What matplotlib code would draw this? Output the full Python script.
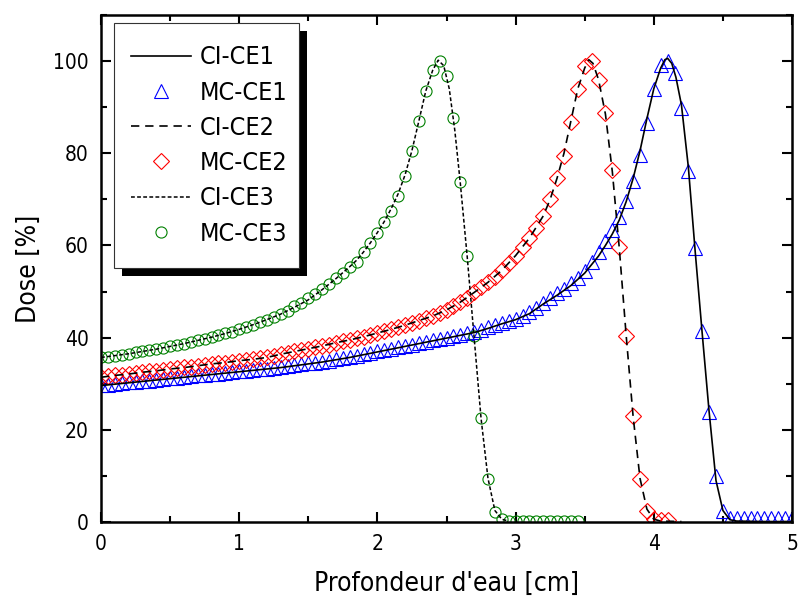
import matplotlib
matplotlib.use('Agg')
import matplotlib.pyplot as plt
from matplotlib.patches import Rectangle
from matplotlib.ticker import MultipleLocator

plt.rcParams['font.family'] = ['DejaVu Sans']
plt.rcParams['font.stretch'] = 'condensed'

# Monte Carlo depth-dose points (0.05 cm steps)
mc_x_ce1 = [round(0.05 * i, 2) for i in range(101)]
mc_ce1 = [29.7, 29.8, 30.0, 30.1, 30.3, 30.4, 30.6, 30.7, 30.9, 31.0,
          31.2, 31.3, 31.5, 31.6, 31.8, 31.9, 32.1, 32.2, 32.4, 32.5,
          32.7, 32.8, 33.0, 33.1, 33.3, 33.4, 33.6, 33.8, 34.0, 34.2,
          34.4, 34.6, 34.8, 35.0, 35.3, 35.5, 35.8, 36.1, 36.4, 36.7,
          37.0, 37.3, 37.6, 37.9, 38.2, 38.5, 38.8, 39.1, 39.4, 39.7,
          40.0, 40.3, 40.6, 40.9, 41.3, 41.7, 42.2, 42.7, 43.2, 43.6,
          44.1, 44.7, 45.5, 46.5, 47.6, 48.6, 49.6, 50.6, 51.8, 53.0,
          54.5, 56.5, 58.6, 60.9, 63.3, 66.2, 69.6, 74.0, 79.6, 86.6,
          93.9, 99.1, 100.0, 97.4, 89.8, 76.2, 59.5, 41.5, 23.8, 9.9,
          2.4, 0.8, 0.8, 0.8, 0.8, 0.8, 0.8, 0.8, 0.8, 0.8, 0.8]

mc_x_ce2 = [round(0.05 * i, 2) for i in range(83)]
mc_ce2 = [31.4, 31.6, 31.8, 31.9, 32.1, 32.3, 32.5, 32.7, 32.8, 33.0,
          33.2, 33.4, 33.6, 33.7, 33.9, 34.1, 34.3, 34.5, 34.6, 34.8,
          35.0, 35.2, 35.4, 35.5, 35.7, 36.1, 36.4, 36.7, 37.0, 37.3,
          37.6, 37.9, 38.2, 38.5, 38.9, 39.2, 39.5, 39.9, 40.2, 40.6,
          41.0, 41.4, 41.8, 42.2, 42.7, 43.2, 43.7, 44.2, 44.7, 45.3,
          46.0, 46.8, 47.7, 48.7, 49.8, 50.9, 52.0, 53.2, 54.6, 56.1,
          57.8, 59.6, 61.6, 63.8, 66.4, 70.0, 74.6, 79.5, 86.8, 93.9,
          98.9, 100.0, 95.9, 88.8, 76.3, 59.6, 40.4, 22.9, 9.4, 2.4,
          0.6, 0.4, 0.4]

mc_x_ce3 = [round(0.05 * i, 2) for i in range(70)]
mc_ce3 = [35.7, 35.9, 36.1, 36.3, 36.5, 36.8, 37.0, 37.3, 37.5, 37.8,
          38.1, 38.4, 38.7, 39.0, 39.4, 39.7, 40.1, 40.5, 40.9, 41.3,
          41.8, 42.3, 42.8, 43.3, 43.9, 44.5, 45.1, 45.8, 46.8, 47.6,
          48.5, 49.5, 50.6, 51.7, 52.9, 54.1, 55.3, 56.5, 58.6, 60.5,
          62.8, 65.0, 67.4, 70.7, 75.0, 80.4, 87.0, 93.5, 98.0, 100.0,
          96.7, 87.6, 73.7, 57.8, 40.4, 22.5, 9.4, 2.2, 0.6, 0.3,
          0.3, 0.3, 0.3, 0.3, 0.3, 0.3, 0.3, 0.3, 0.3, 0.3]

# Calculated (CI) curves
ci_x_ce1 = [0.0, 0.1, 0.2, 0.3, 0.4, 0.5, 0.6, 0.7, 0.8, 0.9, 1.0, 1.1, 1.2,
            1.3, 1.4, 1.5, 1.6, 1.7, 1.8, 1.9, 2.0, 2.1, 2.2, 2.3, 2.4, 2.5,
            2.6, 2.7, 2.8, 2.9, 3.0, 3.1, 3.2, 3.3, 3.4, 3.5, 3.6, 3.65, 3.7,
            3.75, 3.8, 3.85, 3.9, 3.95, 4.0, 4.05, 4.08, 4.1, 4.13, 4.16,
            4.2, 4.25, 4.3, 4.35, 4.4, 4.45, 4.5, 4.55, 4.6, 4.8, 5.0]
ci_ce1 = [29.6, 29.9, 30.2, 30.5, 30.8, 31.1, 31.4, 31.7, 32.0, 32.3, 32.6,
          32.9, 33.2, 33.5, 33.9, 34.3, 34.7, 35.2, 35.7, 36.3, 36.9, 37.5,
          38.1, 38.7, 39.3, 39.9, 40.5, 41.1, 42.0, 43.0, 43.9, 45.2, 47.3,
          49.2, 51.3, 54.0, 57.7, 60.0, 62.5, 65.5, 69.5, 74.5, 80.5, 87.5,
          94.0, 98.5, 100.3, 100.6, 99.5, 96.5, 90.5, 77.0, 58.5, 41.0, 24.0,
          9.0, 2.5, 0.5, 0.2, 0.1, 0.1]

ci_x_ce2 = [0.0, 0.1, 0.2, 0.3, 0.4, 0.5, 0.6, 0.7, 0.8, 0.9, 1.0, 1.1, 1.2,
            1.3, 1.4, 1.5, 1.6, 1.7, 1.8, 1.9, 2.0, 2.1, 2.2, 2.3, 2.4, 2.5,
            2.6, 2.7, 2.8, 2.9, 3.0, 3.1, 3.2, 3.25, 3.3, 3.35, 3.4, 3.45,
            3.5, 3.53, 3.56, 3.6, 3.65, 3.7, 3.75, 3.8, 3.85, 3.9, 3.95, 4.0,
            4.05, 4.2]
ci_ce2 = [31.4, 31.8, 32.1, 32.5, 32.8, 33.2, 33.5, 33.9, 34.3, 34.6, 35.0,
          35.3, 35.7, 36.4, 37.0, 37.6, 38.2, 38.9, 39.5, 40.2, 41.0, 41.8,
          42.7, 43.7, 44.7, 46.0, 47.7, 49.8, 52.0, 54.6, 57.8, 61.6, 66.4,
          70.0, 74.6, 80.0, 87.0, 94.0, 98.5, 100.3, 99.5, 96.0, 88.5, 76.0,
          59.5, 40.5, 23.0, 9.5, 2.8, 0.6, 0.2, 0.1]

ci_x_ce3 = [0.0, 0.1, 0.2, 0.3, 0.4, 0.5, 0.6, 0.7, 0.8, 0.9, 1.0, 1.1, 1.2,
            1.3, 1.4, 1.5, 1.6, 1.65, 1.7, 1.75, 1.8, 1.85, 1.9, 1.95, 2.0,
            2.05, 2.1, 2.15, 2.2, 2.25, 2.3, 2.35, 2.4, 2.44, 2.48, 2.52,
            2.56, 2.6, 2.65, 2.7, 2.75, 2.8, 2.85, 2.9, 2.95]
ci_ce3 = [35.7, 36.1, 36.5, 37.0, 37.5, 38.1, 38.7, 39.4, 40.1, 40.9, 41.8,
          42.8, 43.9, 45.1, 46.6, 48.2, 50.4, 51.6, 52.8, 54.1, 55.4, 56.8,
          58.6, 60.6, 62.8, 65.2, 68.0, 71.2, 75.3, 80.6, 87.0, 93.5, 98.0,
          100.2, 99.0, 94.0, 85.0, 73.5, 57.5, 40.0, 22.5, 9.5, 2.5, 0.6, 0.2]

fig = plt.figure(figsize=(7.98, 6.04), dpi=100)
ax = fig.add_axes([101 / 798, 1 - 522 / 604, 691 / 798, 507 / 604])

ax.plot(ci_x_ce1, ci_ce1, color='black', lw=1.2, ls='-', label='CI-CE1', zorder=3)
ax.plot(mc_x_ce1, mc_ce1, ls='none', marker='^', ms=10, mfc='none',
        mec='#0000ff', mew=0.8, label='MC-CE1', zorder=2)
ax.plot(ci_x_ce2, ci_ce2, color='black', lw=1.2, ls=(0, (5, 3.5)), label='CI-CE2', zorder=3)
ax.plot(mc_x_ce2, mc_ce2, ls='none', marker='D', ms=8.5, mfc='none',
        mec='#ff0000', mew=0.8, label='MC-CE2', zorder=2)
ax.plot(ci_x_ce3, ci_ce3, color='black', lw=1.1, ls=(0, (2.5, 1.5)), label='CI-CE3', zorder=3)
ax.plot(mc_x_ce3, mc_ce3, ls='none', marker='o', ms=8, mfc='none',
        mec='#008000', mew=0.8, label='MC-CE3', zorder=2)

ax.set_xlim(0, 5)
ax.set_ylim(0, 110)
ax.xaxis.set_major_locator(MultipleLocator(1))
ax.xaxis.set_minor_locator(MultipleLocator(0.5))
ax.yaxis.set_minor_locator(MultipleLocator(10))
ax.set_yticks([0, 20, 40, 60, 80, 100])
ax.tick_params(which='both', direction='in', top=True, right=True, width=1.5)
ax.tick_params(which='major', length=7, labelsize=15, pad=9)
ax.tick_params(which='minor', length=4)
for sp in ax.spines.values():
    sp.set_linewidth(1.8)

ax.set_xlabel("Profondeur d'eau [cm]", fontsize=19, labelpad=12)
ax.set_ylabel('Dose [%]', fontsize=19, labelpad=8)

# legend frame with a solid drop shadow
x0, x1 = (114 - 101) / 691, (299 - 101) / 691
y0, y1 = (522 - 268) / 507, (522 - 23) / 507
ax.add_patch(Rectangle((x0 + 8 / 691, y0 - 8 / 507), x1 - x0, y1 - y0,
                       transform=ax.transAxes, facecolor='black',
                       edgecolor='none', zorder=5, clip_on=False))
ax.add_patch(Rectangle((x0, y0), x1 - x0, y1 - y0, transform=ax.transAxes,
                       facecolor='white', edgecolor='#333333', lw=0.8,
                       zorder=6, clip_on=False))
leg = ax.legend(loc='center', bbox_to_anchor=((x0 + x1) / 2 + 0.004, (y0 + y1) / 2),
                frameon=False, fontsize=18, handlelength=2.4,
                handletextpad=0.35, labelspacing=0.45, borderaxespad=0)
leg.set_zorder(7)

fig.savefig('out.png', dpi=100)
